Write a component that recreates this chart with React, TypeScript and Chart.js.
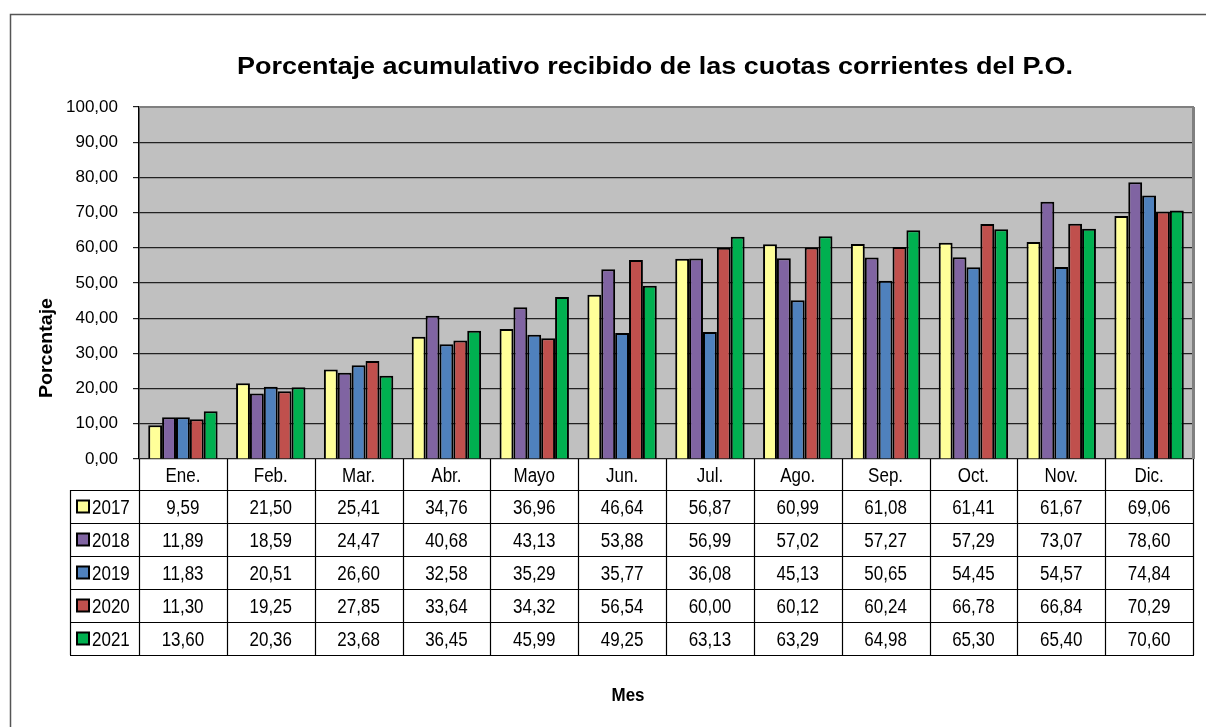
import React, { useEffect, useRef } from 'react';
import { Chart, registerables } from 'chart.js';

Chart.register(...registerables);

const titleText = 'Porcentaje acumulativo recibido de las cuotas corrientes del P.O.';
const yAxisTitle = 'Porcentaje';
const xAxisTitle = 'Mes';
const months = ['Ene.', 'Feb.', 'Mar.', 'Abr.', 'Mayo', 'Jun.', 'Jul.', 'Ago.', 'Sep.', 'Oct.', 'Nov.', 'Dic.'];
const years = ['2017', '2018', '2019', '2020', '2021'];
const v2017 = [9.59, 21.5, 25.41, 34.76, 36.96, 46.64, 56.87, 60.99, 61.08, 61.41, 61.67, 69.06];
const v2018 = [11.89, 18.59, 24.47, 40.68, 43.13, 53.88, 56.99, 57.02, 57.27, 57.29, 73.07, 78.6];
const v2019 = [11.83, 20.51, 26.6, 32.58, 35.29, 35.77, 36.08, 45.13, 50.65, 54.45, 54.57, 74.84];
const v2020 = [11.3, 19.25, 27.85, 33.64, 34.32, 56.54, 60.0, 60.12, 60.24, 66.78, 66.84, 70.29];
const v2021 = [13.6, 20.36, 23.68, 36.45, 45.99, 49.25, 63.13, 63.29, 64.98, 65.3, 65.4, 70.6];
const series = [v2017, v2018, v2019, v2020, v2021];
const colors = ['#FFFF99', '#8064A2', '#4F81BD', '#C0504D', '#00B050'];

const fmt = (v: number) => v.toFixed(2).replace('.', ',');
const FONT = '"Liberation Sans", Arial, sans-serif';

function drawScaledText(ctx: CanvasRenderingContext2D, text: string, x: number, y: number, sx: number) {
  ctx.save();
  ctx.translate(x, y);
  ctx.scale(sx, 1);
  ctx.fillText(text, 0, 0);
  ctx.restore();
}

function fitText(ctx: CanvasRenderingContext2D, text: string, cx: number, y: number, width: number) {
  const w = ctx.measureText(text).width;
  ctx.save();
  ctx.translate(cx, y);
  ctx.scale(width / w, 1);
  ctx.textAlign = 'center';
  ctx.fillText(text, 0, 0);
  ctx.restore();
}

const decor = {
  id: 'decor',
  beforeDraw(chart: any) {
    const { ctx, chartArea: a } = chart;
    ctx.save();
    ctx.fillStyle = '#ffffff';
    ctx.fillRect(0, 0, chart.width, chart.height);
    ctx.fillStyle = '#C0C0C0';
    ctx.fillRect(a.left, a.top, a.right - a.left, a.bottom - a.top);
    ctx.restore();
  },
  afterDraw(chart: any) {
    const { ctx, chartArea: a } = chart;
    const xs = chart.scales.x;
    const n = months.length;
    const cw = (a.right - a.left) / n;
    ctx.save();

    // outer frame
    ctx.strokeStyle = '#555555';
    ctx.lineWidth = 1.5;
    ctx.beginPath();
    ctx.moveTo(10.5, chart.height + 2);
    ctx.lineTo(10.5, 14.5);
    ctx.lineTo(chart.width + 2, 14.5);
    ctx.stroke();

    // plot border (top + right shadow)
    ctx.strokeStyle = '#808080';
    ctx.lineWidth = 2;
    ctx.beginPath();
    ctx.moveTo(a.left, a.top);
    ctx.lineTo(a.right + 1, a.top);
    ctx.stroke();
    ctx.lineWidth = 3;
    ctx.beginPath();
    ctx.moveTo(a.right + 0.5, a.top);
    ctx.lineTo(a.right + 0.5, a.bottom);
    ctx.stroke();

    // title
    ctx.fillStyle = '#000';
    ctx.font = `bold 24px ${FONT}`;
    ctx.textBaseline = 'alphabetic';
    fitText(ctx, titleText, 655, 74, 836);

    // y-axis title
    ctx.font = `bold 19px ${FONT}`;
    ctx.save();
    ctx.translate(51.5, 348);
    ctx.rotate(-Math.PI / 2);
    fitText(ctx, yAxisTitle, 0, 0, 100);
    ctx.restore();

    // x-axis title
    ctx.font = `bold 19px ${FONT}`;
    fitText(ctx, xAxisTitle, 628, 701, 33);

    // data table
    const headTop = a.bottom;
    const headBot = 490;
    const rowH = 33;
    const legLeft = 70;
    const tableBot = headBot + rowH * years.length;
    ctx.strokeStyle = '#000';
    ctx.lineWidth = 1.2;
    ctx.beginPath();
    for (let i = 0; i <= n; i++) {
      const x = Math.round(a.left + i * cw) + 0.5;
      ctx.moveTo(x, headTop);
      ctx.lineTo(x, tableBot);
    }
    ctx.moveTo(legLeft + 0.5, headBot);
    ctx.lineTo(legLeft + 0.5, tableBot);
    for (let r = 0; r <= years.length; r++) {
      const y = headBot + r * rowH + 0.5;
      ctx.moveTo(legLeft, y);
      ctx.lineTo(a.right + 1, y);
    }
    ctx.stroke();

    ctx.font = `20px ${FONT}`;
    ctx.textAlign = 'center';
    ctx.fillStyle = '#000';
    const sx = 0.85;
    for (let i = 0; i < n; i++) {
      const cx = xs.getPixelForValue(i);
      drawScaledText(ctx, months[i], cx, headTop + 23, sx);
      for (let r = 0; r < years.length; r++) {
        drawScaledText(ctx, fmt(series[r][i]), cx, headBot + r * rowH + 24, sx);
      }
    }
    for (let r = 0; r < years.length; r++) {
      const top = headBot + r * rowH;
      const my = top + rowH / 2;
      ctx.fillStyle = colors[r];
      ctx.fillRect(77, my - 6, 12, 12);
      ctx.strokeStyle = '#000';
      ctx.lineWidth = 2;
      ctx.strokeRect(77, my - 6, 12, 12);
      ctx.fillStyle = '#000';
      ctx.textAlign = 'left';
      drawScaledText(ctx, years[r], 92, top + 24, sx);
    }
    ctx.restore();
  },
};

export default function App() {
  const ref = useRef<HTMLCanvasElement>(null);
  useEffect(() => {
    if (!ref.current) return;
    const chart = new Chart(ref.current, {
      type: 'bar',
      data: {
        labels: months,
        datasets: years.map((y, i) => ({
          label: y,
          data: series[i],
          backgroundColor: colors[i],
          borderColor: '#000000',
          borderWidth: 2,
          categoryPercentage: 0.79,
          barPercentage: 1.0,
        })),
      },
      options: {
        responsive: false,
        animation: false,
        devicePixelRatio: 1,
        layout: { padding: { top: 107, bottom: 268, left: 0, right: 13 } },
        plugins: {
          legend: { display: false },
          tooltip: { enabled: false },
          title: { display: false },
        },
        scales: {
          x: { display: false },
          y: {
            min: 0,
            max: 100,
            afterFit: (s: any) => { s.width = 139; },
            ticks: {
              stepSize: 10,
              padding: 15,
              color: '#000',
              font: { family: FONT, size: 17 },
              callback: (v: any) => fmt(Number(v)),
            },
            grid: { color: '#222222', lineWidth: 1.2, tickLength: 6, drawTicks: true },
            border: { display: true, color: '#000', width: 1.5 },
          },
        },
      },
      plugins: [decor],
    });
    return () => chart.destroy();
  }, []);
  return (
    <div style={{ position: 'absolute', left: 0, top: 0, width: 1206, height: 727 }}>
      <canvas ref={ref} width={1206} height={727} style={{ display: 'block' }} />
    </div>
  );
}
